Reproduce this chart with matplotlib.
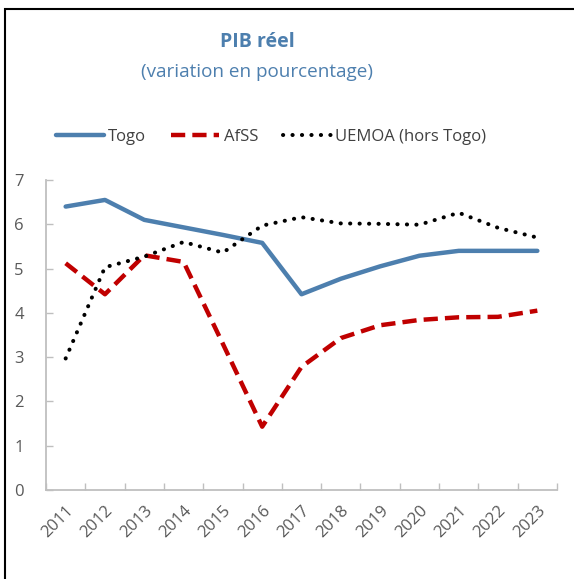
import matplotlib.pyplot as plt
from matplotlib.patches import Rectangle
from matplotlib.ticker import FixedLocator

plt.rcParams['font.family'] = ['Open Sans', 'DejaVu Sans']

years = [str(y) for y in range(2011, 2024)]
togo = [6.4, 6.55, 6.1, 5.93, 5.76, 5.58, 4.42, 4.77, 5.05, 5.29, 5.4, 5.4, 5.4]
afss = [5.12, 4.42, 5.3, 5.15, 3.3, 1.43, 2.78, 3.43, 3.72, 3.84, 3.9, 3.91, 4.05]
uemoa = [2.97, 5.03, 5.27, 5.6, 5.36, 5.97, 6.16, 6.02, 6.01, 5.99, 6.26, 5.92, 5.7]

blue = '#4D7FAE'
red = '#C00000'
grey = '#595959'
axis_col = '#BFBFBF'

fig = plt.figure(figsize=(5.74, 5.79), dpi=100)
ax = fig.add_axes([46 / 574, 89 / 579, 511 / 574, 310 / 579])

x = list(range(len(years)))
ax.plot(x, togo, color=blue, lw=3.2, solid_capstyle='round', label='Togo')
ax.plot(x, afss, color=red, lw=3.2, dashes=(3.2, 1.6), dash_capstyle='butt', label='AfSS')
ax.plot(x, uemoa, color='black', lw=2.9, linestyle=(0, (0.05, 2.3)),
        dash_capstyle='round', label='UEMOA (hors Togo)')

ax.set_xlim(-0.5, len(years) - 0.5)
ax.set_ylim(0, 7)
ax.set_yticks(range(0, 8))
ax.set_xticks(x)
ax.set_xticklabels(years, rotation=45, ha='right', rotation_mode='anchor')
ax.xaxis.set_minor_locator(FixedLocator([i - 0.5 for i in range(len(years) + 1)]))

ax.tick_params(axis='x', which='major', length=0, pad=9, labelsize=12, labelcolor=grey)
ax.tick_params(axis='x', which='minor', length=5, direction='in', color=axis_col, width=1)
ax.tick_params(axis='y', length=5, direction='in', color=axis_col, width=1,
               labelsize=12, labelcolor=grey, pad=16)

for s in ['top', 'right']:
    ax.spines[s].set_visible(False)
for s in ['left', 'bottom']:
    ax.spines[s].set_color(axis_col)
    ax.spines[s].set_linewidth(1.3)

fig.text(257 / 574, 1 - 47 / 579, 'PIB réel', ha='center', va='baseline',
         fontsize=14, fontweight='bold', color=blue)
fig.text(257 / 574, 1 - 77 / 579, '(variation en pourcentage)', ha='center',
         va='baseline', fontsize=13.6, color=blue)

fig.legend(loc='center', bbox_to_anchor=(271 / 574, 1 - 137 / 579), ncol=3,
           frameon=False, fontsize=12, handlelength=2.9, handletextpad=0.25,
           columnspacing=1.5, labelcolor='#404040')

fig.patches.append(Rectangle((5 / 574, -0.05), 1.1, 1 - 9 / 579 + 0.05,
                             transform=fig.transFigure, fill=False,
                             edgecolor='black', lw=1.5))

fig.savefig('out.png', dpi=100)
